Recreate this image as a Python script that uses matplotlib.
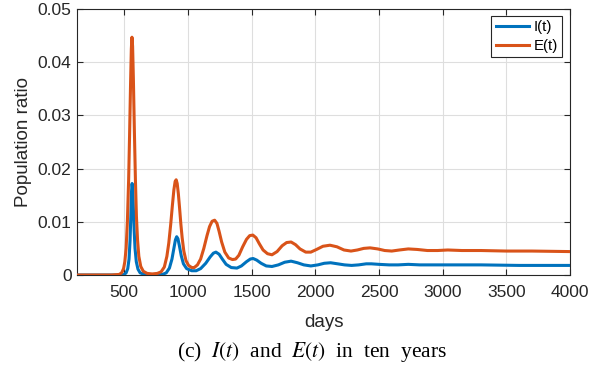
import matplotlib
matplotlib.use("Agg")

import matplotlib.pyplot as plt

# E(t): days and values
e_days = [130, 400, 460, 480, 495, 505, 515, 525, 535, 542, 550, 556, 561, 566, 572,
          580, 588, 596, 605, 615, 630, 650, 680, 720, 760, 790, 815, 835, 850, 865,
          878, 890, 900, 908, 916, 925, 935, 945, 955, 968, 985, 1005, 1030, 1050,
          1075, 1100, 1125, 1150, 1170, 1190, 1210, 1228, 1245, 1265, 1290, 1320,
          1350, 1375, 1400, 1430, 1460, 1485, 1510, 1535, 1560, 1590, 1625, 1660,
          1700, 1740, 1775, 1810, 1845, 1880, 1925, 1965, 2010, 2060, 2115, 2170,
          2225, 2280, 2330, 2380, 2430, 2490, 2545, 2600, 2660, 2730, 2800, 2880,
          2960, 3040, 3150, 3300, 3500, 3700, 4000]
e_vals = [0, 0, 0.0001, 0.0004, 0.0012, 0.0025, 0.0050, 0.0100, 0.0180, 0.0260,
          0.0360, 0.0425, 0.0447, 0.0430, 0.0370, 0.0270, 0.0180, 0.0110, 0.0065,
          0.0035, 0.0016, 0.0007, 0.0003, 0.0002, 0.0003, 0.0006, 0.0015, 0.0035,
          0.0060, 0.0095, 0.0130, 0.0160, 0.0176, 0.0179, 0.0172, 0.0153, 0.0125,
          0.0095, 0.0070, 0.0045, 0.0027, 0.0018, 0.0014, 0.0014, 0.0019, 0.0030,
          0.0050, 0.0074, 0.0091, 0.0101, 0.0103, 0.0097, 0.0082, 0.0062, 0.0043,
          0.0032, 0.0029, 0.0030, 0.0037, 0.0053, 0.0067, 0.0074, 0.0075, 0.0070,
          0.0059, 0.0047, 0.0040, 0.0038, 0.0044, 0.0055, 0.0061, 0.0062, 0.0057,
          0.0049, 0.0043, 0.0043, 0.0048, 0.0054, 0.0056, 0.0053, 0.0047, 0.0045,
          0.0047, 0.0050, 0.0051, 0.0049, 0.0046, 0.0045, 0.0047, 0.0049, 0.0048,
          0.0046, 0.0046, 0.0047, 0.0046, 0.0046, 0.0045, 0.0045, 0.0044]

# I(t)
i_days = [130, 470, 500, 515, 528, 538, 546, 552, 557, 562, 567, 572, 578, 585, 595,
          608, 625, 660, 740, 800, 830, 855, 875, 890, 902, 912, 922, 934, 948, 965,
          990, 1030, 1065, 1100, 1140, 1175, 1200, 1220, 1245, 1270, 1300, 1340,
          1385, 1420, 1460, 1490, 1512, 1540, 1575, 1615, 1660, 1710, 1760, 1810,
          1860, 1910, 1965, 2020, 2070, 2120, 2175, 2230, 2285, 2340, 2400, 2440,
          2500, 2580, 2650, 2730, 2820, 3000, 3300, 3600, 4000]
i_vals = [0, 0, 0.0001, 0.0004, 0.0012, 0.0030, 0.0065, 0.0110, 0.0155, 0.0172,
          0.0160, 0.0125, 0.0085, 0.0050, 0.0025, 0.0011, 0.0004, 0.0001, 0.0000,
          0.0001, 0.0004, 0.0013, 0.0030, 0.0050, 0.0066, 0.0072, 0.0068, 0.0054,
          0.0036, 0.0021, 0.0012, 0.0008, 0.0008, 0.0012, 0.0022, 0.0034, 0.0041,
          0.0043, 0.0039, 0.0030, 0.0020, 0.0014, 0.0013, 0.0017, 0.0025, 0.0030,
          0.0031, 0.0028, 0.0022, 0.0017, 0.0016, 0.0019, 0.0024, 0.0026, 0.0023,
          0.0019, 0.0017, 0.0019, 0.0022, 0.0023, 0.0021, 0.0019, 0.0018, 0.0019,
          0.0021, 0.0021, 0.0020, 0.0019, 0.0019, 0.0020, 0.0019, 0.0019, 0.0019,
          0.0018, 0.0018]

x_ticks = [500, 1000, 1500, 2000, 2500, 3000, 3500, 4000]
y_ticks = [0, 0.01, 0.02, 0.03, 0.04, 0.05]
y_labels = ["0", "0.01", "0.02", "0.03", "0.04", "0.05"]

plt.rcParams["font.family"] = ["Liberation Sans", "DejaVu Sans"]
plt.rcParams["mathtext.fontset"] = "stix"

dark = "#262626"

fig = plt.figure(figsize=(6.02, 3.67), dpi=100)
ax = fig.add_axes([0.128, 0.2507, 0.819, 0.7248])

ax.plot(i_days, i_vals, color="#0072BD", lw=2.2, label="I(t)", zorder=3)
ax.plot(e_days, e_vals, color="#D95319", lw=2.2, label="E(t)", zorder=3)

ax.set_xlim(130, 4000)
ax.set_ylim(0, 0.05)
ax.set_xticks(x_ticks)
ax.set_yticks(y_ticks)
ax.set_yticklabels(y_labels)
ax.tick_params(direction="in", top=True, right=True, labelsize=12.5,
               colors=dark, length=4, width=0.8, pad=4)
ax.tick_params(axis="x", pad=7.5)
ax.grid(True, color="#dedede", lw=0.8)
ax.set_axisbelow(True)
for s in ax.spines.values():
    s.set_color(dark)
    s.set_linewidth(0.8)

ax.set_xlabel("days", fontsize=13.5, color=dark, labelpad=9.5)
ax.set_ylabel("Population ratio", fontsize=13.5, color=dark, labelpad=4)

leg = ax.legend(loc="upper right", fontsize=10.8, handlelength=2.2,
                fancybox=False, framealpha=1, edgecolor=dark,
                borderpad=0.3, labelspacing=0.3, handletextpad=0.3,
                borderaxespad=0, bbox_to_anchor=(0.984, 0.974))
leg.get_frame().set_linewidth(0.8)

fig.text(0.518, 0.042, "(c)  $I(t)$  and  $E(t)$  in  ten  years", ha="center",
         va="center", fontsize=15.5, family=["Liberation Serif", "DejaVu Serif"],
         color="black")

fig.savefig("out.png", dpi=100)
plt.close(fig)
